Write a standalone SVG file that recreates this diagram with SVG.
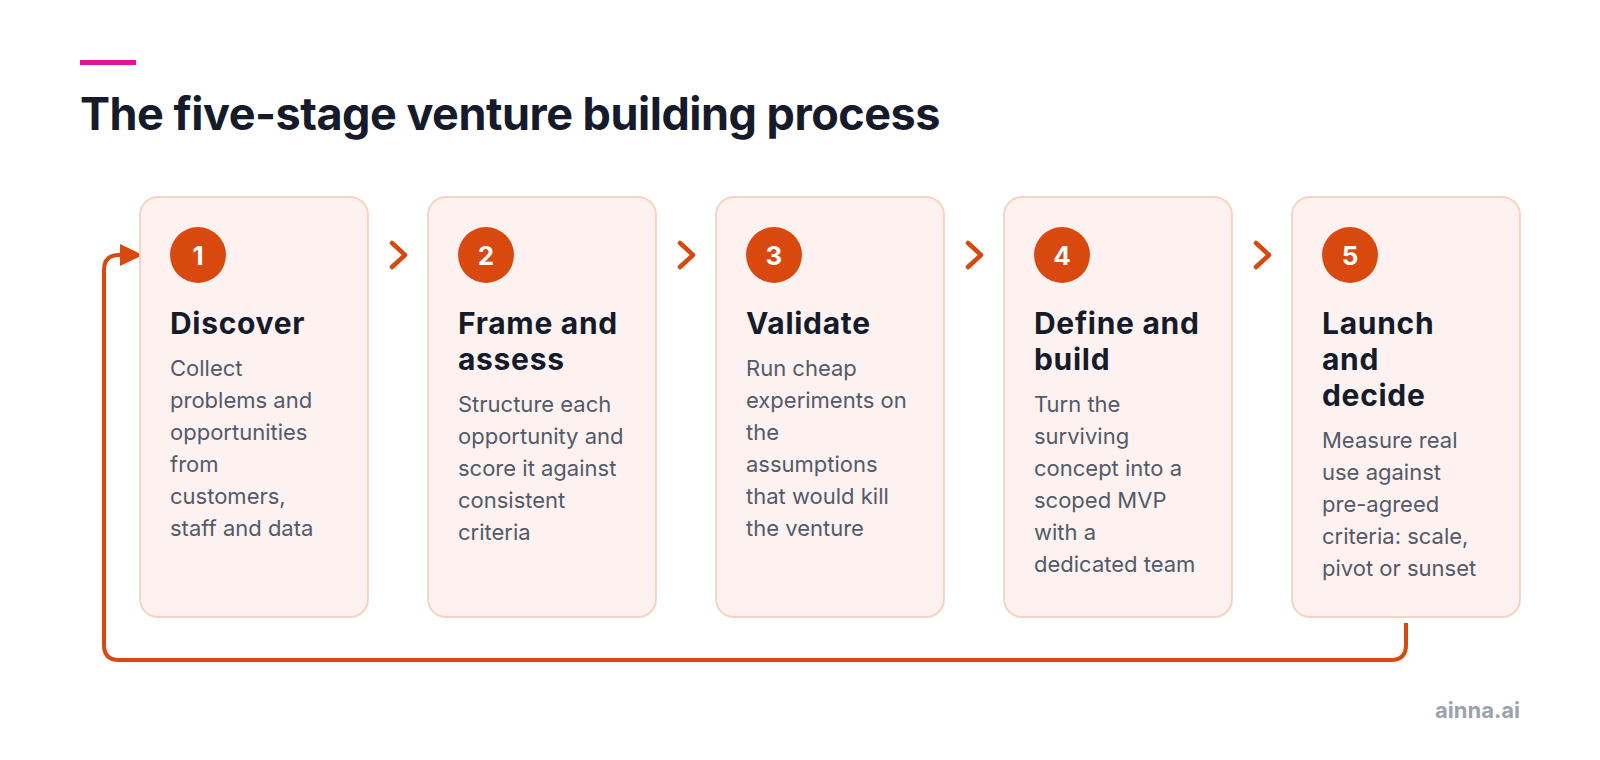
<svg xmlns="http://www.w3.org/2000/svg" width="1600" height="760" viewBox="0 0 1600 760">
  <defs>
    <style>
      .card { fill: #fdf2ef; stroke: #f7d3c5; stroke-width: 2; }
      .badge { fill: #d9480f; }
      .num { font-family: Inter, "Liberation Sans", sans-serif; font-weight: 700; font-size: 26px; fill: #ffffff; text-anchor: middle; }
      .ttl { font-family: Inter, "Liberation Sans", sans-serif; font-weight: 700; font-size: 30px; letter-spacing: 0.7px; fill: #161b2b; }
      .desc { font-family: Inter, "Liberation Sans", sans-serif; font-weight: 400; font-size: 22px; fill: #525a6b; }
      .chev { fill: none; stroke: #d9480f; stroke-width: 4.5; stroke-linecap: round; stroke-linejoin: round; }
      .loop { fill: none; stroke: #d9480f; stroke-width: 4; }
    </style>
  </defs>
  <rect width="1600" height="760" fill="#ffffff"/>
  <rect x="80" y="60" width="56" height="5" fill="#e8119b"/>
  <text x="80" y="130" font-family="Inter, 'Liberation Sans', sans-serif" font-weight="700" font-size="45" letter-spacing="-0.5" fill="#161b2b">The five-stage venture building process</text>

  <g id="connectors">
    <polyline class="chev" points="392,243 405,255 392,267"/>
    <polyline class="chev" points="680,243 693,255 680,267"/>
    <polyline class="chev" points="968,243 981,255 968,267"/>
    <polyline class="chev" points="1256,243 1269,255 1256,267"/>
    <path class="loop" d="M1406,623 V645 Q1406,660 1391,660 H119 Q104,660 104,645 V270 Q104,255 119,255 H124"/>
    <polygon points="120,244 143,255 120,266" fill="#d9480f"/>
  </g>

  <g id="stage1">
    <rect class="card" x="140" y="197" width="228" height="420" rx="18"/>
    <circle class="badge" cx="198" cy="255" r="28"/>
    <text class="num" x="198" y="264.5">1</text>
    <text class="ttl" x="170" y="334">Discover</text>
    <text class="desc" x="170" y="376">Collect</text>
    <text class="desc" x="170" y="408">problems and</text>
    <text class="desc" x="170" y="440">opportunities</text>
    <text class="desc" x="170" y="472">from</text>
    <text class="desc" x="170" y="504">customers,</text>
    <text class="desc" x="170" y="536">staff and data</text>
  </g>

  <g id="stage2">
    <rect class="card" x="428" y="197" width="228" height="420" rx="18"/>
    <circle class="badge" cx="486" cy="255" r="28"/>
    <text class="num" x="486" y="264.5">2</text>
    <text class="ttl" x="458" y="334">Frame and</text>
    <text class="ttl" x="458" y="370">assess</text>
    <text class="desc" x="458" y="412">Structure each</text>
    <text class="desc" x="458" y="444">opportunity and</text>
    <text class="desc" x="458" y="476">score it against</text>
    <text class="desc" x="458" y="508">consistent</text>
    <text class="desc" x="458" y="540">criteria</text>
  </g>

  <g id="stage3">
    <rect class="card" x="716" y="197" width="228" height="420" rx="18"/>
    <circle class="badge" cx="774" cy="255" r="28"/>
    <text class="num" x="774" y="264.5">3</text>
    <text class="ttl" x="746" y="334">Validate</text>
    <text class="desc" x="746" y="376">Run cheap</text>
    <text class="desc" x="746" y="408">experiments on</text>
    <text class="desc" x="746" y="440">the</text>
    <text class="desc" x="746" y="472">assumptions</text>
    <text class="desc" x="746" y="504">that would kill</text>
    <text class="desc" x="746" y="536">the venture</text>
  </g>

  <g id="stage4">
    <rect class="card" x="1004" y="197" width="228" height="420" rx="18"/>
    <circle class="badge" cx="1062" cy="255" r="28"/>
    <text class="num" x="1062" y="264.5">4</text>
    <text class="ttl" x="1034" y="334">Define and</text>
    <text class="ttl" x="1034" y="370">build</text>
    <text class="desc" x="1034" y="412">Turn the</text>
    <text class="desc" x="1034" y="444">surviving</text>
    <text class="desc" x="1034" y="476">concept into a</text>
    <text class="desc" x="1034" y="508">scoped MVP</text>
    <text class="desc" x="1034" y="540">with a</text>
    <text class="desc" x="1034" y="572">dedicated team</text>
  </g>

  <g id="stage5">
    <rect class="card" x="1292" y="197" width="228" height="420" rx="18"/>
    <circle class="badge" cx="1350" cy="255" r="28"/>
    <text class="num" x="1350" y="264.5">5</text>
    <text class="ttl" x="1322" y="334">Launch</text>
    <text class="ttl" x="1322" y="370">and</text>
    <text class="ttl" x="1322" y="406">decide</text>
    <text class="desc" x="1322" y="448">Measure real</text>
    <text class="desc" x="1322" y="480">use against</text>
    <text class="desc" x="1322" y="512">pre-agreed</text>
    <text class="desc" x="1322" y="544">criteria: scale,</text>
    <text class="desc" x="1322" y="576">pivot or sunset</text>
  </g>

  <text x="1520" y="718" font-family="Inter, 'Liberation Sans', sans-serif" font-weight="700" font-size="22" fill="#9ca3af" text-anchor="end">ainna.ai</text>
</svg>
